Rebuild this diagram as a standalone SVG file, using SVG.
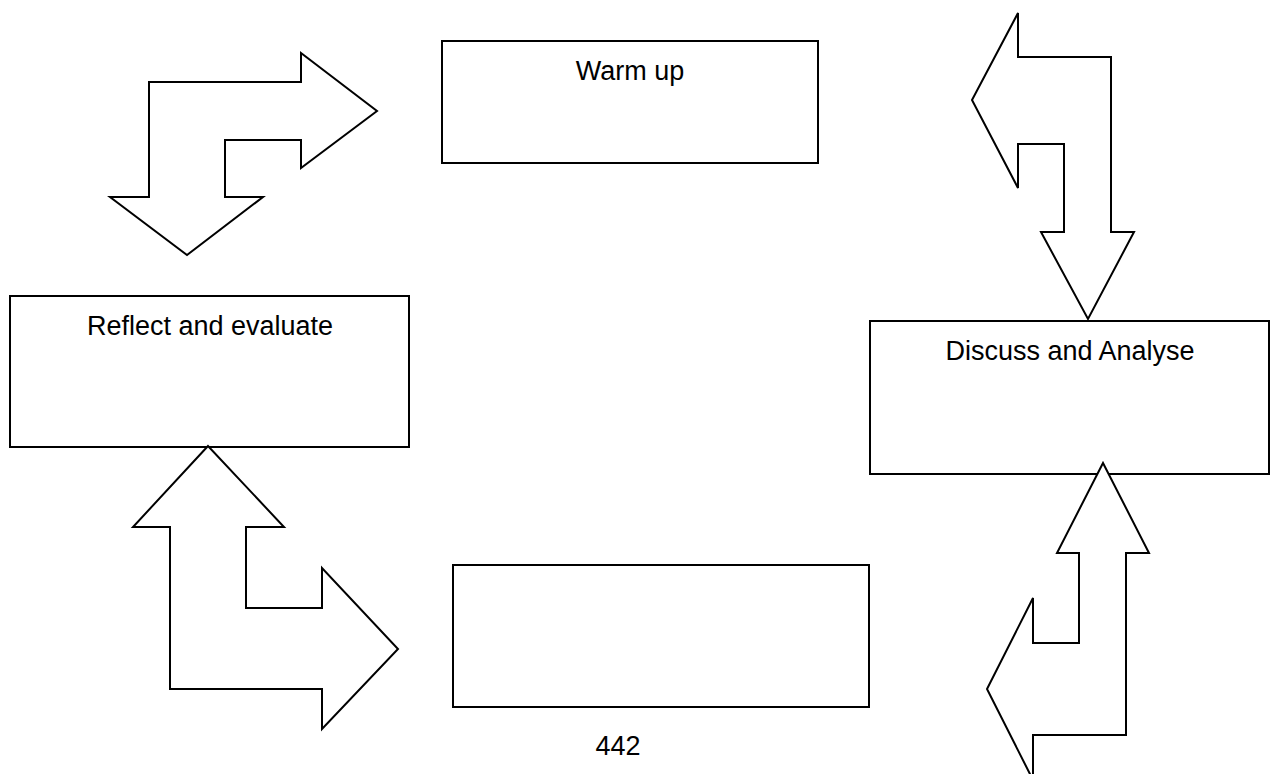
<svg xmlns="http://www.w3.org/2000/svg" width="1270" height="774" viewBox="0 0 1270 774">
<style>
.box{fill:#fff;stroke:#000;stroke-width:2}
.arr{fill:#fff;stroke:#000;stroke-width:2;stroke-linejoin:miter}
.lbl{font-family:"Liberation Sans",Arial,sans-serif;font-size:27px;fill:#000;text-anchor:middle}
</style>
<rect width="1270" height="774" fill="#fff"/>
<g id="node-warmup">
<rect class="box" x="442" y="41" width="376" height="122"/>
<text class="lbl" x="630" y="80">Warm up</text>
</g>
<g id="node-reflect">
<rect class="box" x="10" y="296" width="399" height="151"/>
<text class="lbl" x="210" y="335">Reflect and evaluate</text>
</g>
<g id="node-discuss">
<rect class="box" x="870" y="321" width="399" height="153"/>
<text class="lbl" x="1070" y="360">Discuss and Analyse</text>
</g>
<g id="node-empty">
<rect class="box" x="453" y="565" width="416" height="142"/>
</g>
<text id="page-number" class="lbl" x="618" y="755">442</text>
<g id="connectors">
<polygon class="arr" points="149,197 110,197 187,255 263,197 225,197 225,140 301,140 301,168 377,111 301,53 301,82 149,82"/>
<polygon class="arr" points="1018,57 1018,13 972,100 1018,188 1018,144 1064,144 1064,232 1041,232 1088,319 1134,232 1111,232 1111,57"/>
<polygon class="arr" points="208,446 133,527 170,527 170,689 322,689 322,729 398,649 322,568 322,608 246,608 246,527 284,527"/>
<polygon class="arr" points="1103,463 1057,553 1079,553 1079,643 1033,643 1033,598 987,689 1033,780 1033,735 1126,735 1126,553 1149,553"/>
</g>
</svg>
